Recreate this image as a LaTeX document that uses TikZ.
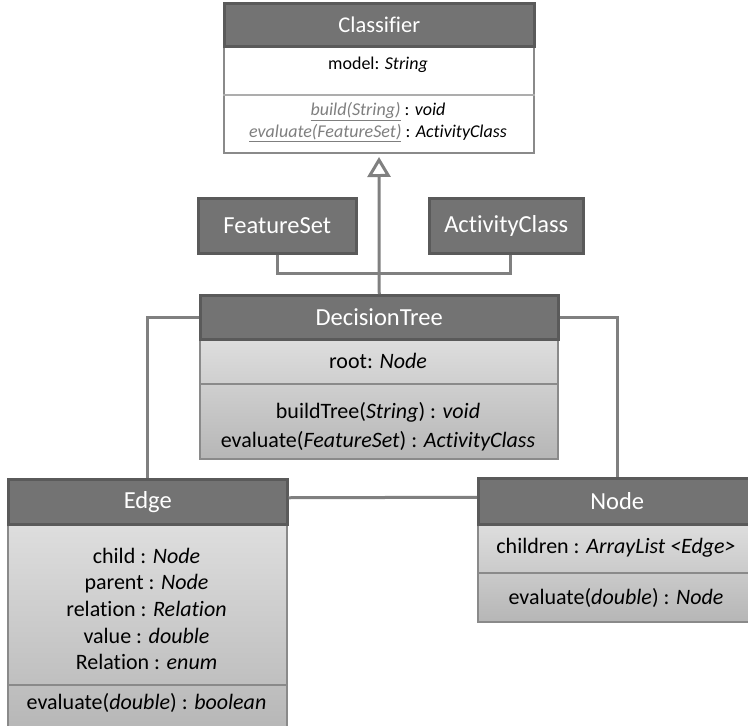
\documentclass[tikz,border=0pt]{standalone}
\usepackage{fontspec}
\setmainfont{Carlito}[Ligatures=NoCommon]
\usetikzlibrary{arrows.meta}

\definecolor{hdrfill}{HTML}{737373}
\definecolor{hdrline}{HTML}{5A5A5A}
\definecolor{bodytop}{HTML}{DEDEDE}
\definecolor{bodybot}{HTML}{B6B6B6}
\definecolor{bodyline}{HTML}{8A8A8A}
\definecolor{wirecol}{HTML}{808080}
\definecolor{opgray}{HTML}{7F7F7F}

\tikzset{
  hdr/.style={draw=hdrline, fill=hdrfill, line width=2.5pt, text=white,
    font=\fontsize{24.5}{29}\selectfont, anchor=north west, inner sep=0pt},
  body/.style={draw=bodyline, line width=1.5pt, top color=bodytop,
    bottom color=bodybot, anchor=north west, inner sep=0pt},
  plainbody/.style={draw=bodyline, line width=2pt, fill=white,
    anchor=north west, inner sep=0pt},
  txt/.style={font=\fontsize{22}{27}\selectfont, align=center, inner sep=0pt},
  smalltxt/.style={font=\fontsize{18}{22}\selectfont, align=center, inner sep=0pt},
  sepline/.style={draw=bodyline, line width=1.5pt},
  wire/.style={draw=wirecol, line width=3pt},
}
\newcommand{\opname}[1]{\textcolor{opgray}{\underline{\textit{#1}}}}

\begin{document}
\begin{tikzpicture}[x=1pt, y=-1pt]
\useasboundingbox (0,0) rectangle (748,726);
\begin{scope}
\clip (0,0) rectangle (748,726);

% Classifier
\node[plainbody, minimum width=310pt, minimum height=107pt] (clb) at (223,45) {};
\node[hdr, minimum width=310pt, minimum height=43pt,
      font=\fontsize{22.5}{27}\selectfont] (clh) at (223,2) {Classifier};
\draw[sepline, draw=bodyline!70] ([yshift=-50pt]clb.north west) -- ([yshift=-50pt]clb.north east);
\node[smalltxt] (cla) at (378,65) {model: \textit{String}};
\node[smalltxt] (clm) at (378,122) {\opname{build(String)} : \textit{void}\\
  \opname{evaluate(FeatureSet)} : \textit{ActivityClass}};

% FeatureSet and ActivityClass
\node[hdr, minimum width=158pt, minimum height=55pt] (fs) at (197,197) {FeatureSet};
\node[hdr, minimum width=154pt, minimum height=55pt] (ac) at (428,197) {ActivityClass};

% DecisionTree
\node[body, minimum width=358pt, minimum height=120pt] (dtb) at (199,338) {};
\node[hdr, minimum width=358pt, minimum height=44pt] (dth) at (199,294) {DecisionTree};
\draw[sepline] ([yshift=-46pt]dtb.north west) -- ([yshift=-46pt]dtb.north east);
\node[txt] (dta) at (378,361) {root: \textit{Node}};
\node[txt, font=\fontsize{22}{28.5}\selectfont] (dtm) at (378,426.5)
  {buildTree(\textit{String}) : \textit{void}\\
   evaluate(\textit{FeatureSet}) : \textit{ActivityClass}};

% Edge
\node[body, minimum width=279pt, minimum height=210pt] (edb) at (7,523) {};
\node[hdr, minimum width=279pt, minimum height=45pt] (edh) at (7,478) {Edge};
\draw[sepline] ([yshift=-162pt]edb.north west) -- ([yshift=-162pt]edb.north east);
\node[txt, font=\fontsize{22}{26.6}\selectfont] (eda) at (146.5,609)
  {child : \textit{Node}\\ parent : \textit{Node}\\ relation : \textit{Relation}\\
   value : \textit{double}\\ Relation : \textit{enum}};
\node[txt] (edm) at (146.5,703) {evaluate(\textit{double}) : \textit{boolean}};

% Node
\node[body, minimum width=278pt, minimum height=98pt] (ndb) at (477,523) {};
\node[hdr, minimum width=278pt, minimum height=46pt] (ndh) at (477,477) {Node};
\draw[sepline] ([yshift=-50pt]ndb.north west) -- ([yshift=-50pt]ndb.north east);
\node[txt] (nda) at (616,548) {children : \textit{ArrayList <Edge>}};
\node[txt] (ndm) at (616,598) {evaluate(\textit{double}) : \textit{Node}};

% Connectors
\coordinate (join) at (378,273);
\draw[wire] (fs.south) |- (join) -| ([xshift=4pt]ac.south);
\draw[wire, -{Triangle[open, length=20pt, width=23pt]}, shorten >=3pt]
  (dth.north) -- (clb.south);
\draw[wire] (dth.west) -| (edh.north);
\draw[wire] (dth.east) -| (ndh.north);
\draw[wire] ([yshift=4pt]edh.east) -- ([yshift=4pt]ndh.west);
\end{scope}
\end{tikzpicture}
\end{document}
